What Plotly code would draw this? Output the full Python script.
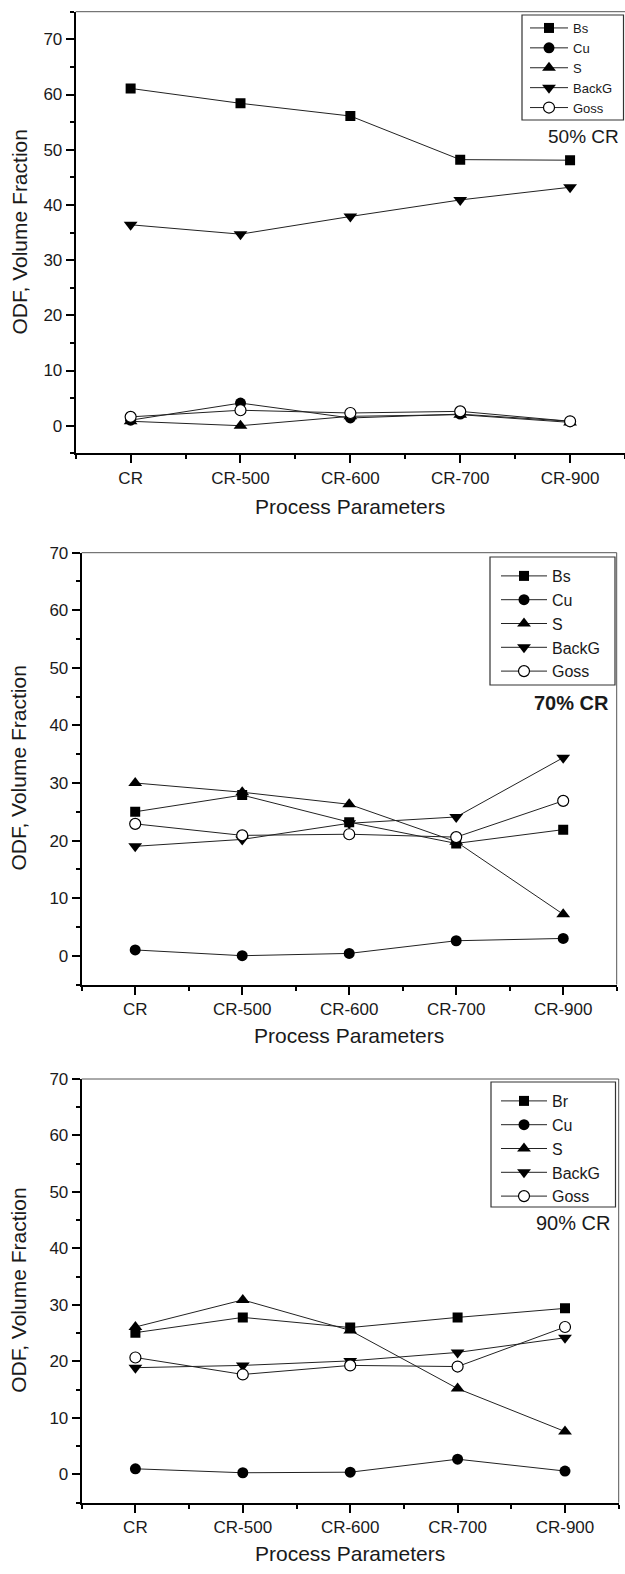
import plotly.graph_objects as go

categories = ["CR", "CR-500", "CR-600", "CR-700", "CR-900"]
x_pos = list(range(len(categories)))

# ---- 50% CR ----
p50_names = ["Bs", "Cu", "S", "BackG", "Goss"]
p50_bs = [61.1, 58.4, 56.1, 48.2, 48.1]
p50_cu = [1.0, 4.1, 1.4, 2.1, 0.8]
p50_s = [0.8, 0.0, 1.7, 2.0, 0.6]
p50_backg = [36.4, 34.7, 37.9, 40.9, 43.2]
p50_goss = [1.6, 2.8, 2.3, 2.6, 0.8]

# ---- 70% CR ----
p70_names = ["Bs", "Cu", "S", "BackG", "Goss"]
p70_bs = [25.0, 27.9, 23.2, 19.5, 21.9]
p70_cu = [1.0, 0.0, 0.4, 2.6, 3.0]
p70_s = [30.0, 28.4, 26.3, 19.8, 7.2]
p70_backg = [19.0, 20.2, 23.0, 24.1, 34.4]
p70_goss = [22.9, 20.9, 21.1, 20.6, 26.9]

# ---- 90% CR ----
p90_names = ["Br", "Cu", "S", "BackG", "Goss"]
p90_br = [25.1, 27.8, 26.0, 27.8, 29.4]
p90_cu = [1.0, 0.3, 0.4, 2.7, 0.6]
p90_s = [26.1, 30.9, 25.5, 15.2, 7.6]
p90_backg = [18.9, 19.3, 20.1, 21.6, 24.2]
p90_goss = [20.7, 17.7, 19.3, 19.1, 26.1]

panel_labels = ["50% CR", "70% CR", "90% CR"]
x_title = "Process Parameters"
y_title = "ODF, Volume Fraction"
y_ticks = [0, 10, 20, 30, 40, 50, 60, 70]

FONT = "Arial, 'Liberation Sans', Helvetica, sans-serif"
TXT = "#1a1a1a"
W, H = 625, 1574

marker_styles = [
    dict(symbol="square", size=10, color="black"),
    dict(symbol="circle", size=11, color="black"),
    dict(symbol="triangle-up", size=12, color="black"),
    dict(symbol="triangle-down", size=12, color="black"),
    dict(symbol="circle", size=11, color="white", line=dict(color="black", width=1.2)),
]

panels = [
    (p50_names, [p50_bs, p50_cu, p50_s, p50_backg, p50_goss]),
    (p70_names, [p70_bs, p70_cu, p70_s, p70_backg, p70_goss]),
    (p90_names, [p90_br, p90_cu, p90_s, p90_backg, p90_goss]),
]

# pixel geometry of each plot area: (left, right, top, bottom) and y range
geom = [
    (75.7, 625.0, 11.7, 453.3, [-5, 75]),
    (81.7, 616.7, 552.7, 984.5, [-5, 70]),
    (81.7, 618.7, 1079.0, 1502.7, [-5, 70]),
]

fig = go.Figure()
legend_keys = ["legend", "legend2", "legend3"]
axis_sfx = ["", "2", "3"]

for i, (names, series) in enumerate(panels):
    for j, (nm, vals) in enumerate(zip(names, series)):
        fig.add_trace(go.Scatter(
            x=x_pos, y=vals, name=nm, mode="lines+markers",
            line=dict(color="#222222", width=1),
            marker=marker_styles[j],
            xaxis="x" + axis_sfx[i], yaxis="y" + axis_sfx[i],
            legend=legend_keys[i],
        ))

layout = dict(
    template="none",
    width=W, height=H, margin=dict(l=0, r=0, t=0, b=0, pad=0, autoexpand=False),
    paper_bgcolor="white", plot_bgcolor="white",
    font=dict(family=FONT, color=TXT),
    showlegend=True,
)

shapes = []
annotations = []
legend_font = [13, 16, 16]
legend_itemw = [38, 46, 46]
legend_pos = [(525, 13), (496, 559), (496, 1084)]
legend_box = [(522, 623.5, 15, 120), (490, 615, 557, 685), (491, 615.5, 1082, 1207)]
label_pos = [(621, 137, False, 19), (611, 703, True, 20), (612, 1223, False, 20)]
xlab_y = [506, 1035, 1553]

for i, (l, r, t, b, yr) in enumerate(geom):
    sfx = axis_sfx[i]
    xd = [l / W, r / W]
    yd = [1 - b / H, 1 - t / H]
    layout["xaxis" + sfx] = dict(
        domain=xd, range=[-0.5, 4.5], anchor="y" + sfx, automargin=False,
        tickmode="array", tickvals=x_pos, ticktext=categories,
        showline=True, linecolor="black", linewidth=2,
        ticks="outside", ticklen=8, tickwidth=1.5, tickcolor="black",
        showgrid=False, zeroline=False,
        tickfont=dict(size=17, color=TXT, family=FONT),
        minor=dict(tickmode="linear", tick0=-0.5, dtick=1, ticks="outside",
                   ticklen=4, tickwidth=1.5, tickcolor="black", showgrid=False),
    )
    layout["yaxis" + sfx] = dict(
        domain=yd, range=yr, anchor="x" + sfx, automargin=False,
        tickmode="array", tickvals=y_ticks,
        showline=True, linecolor="black", linewidth=2,
        ticks="outside", ticklen=8, tickwidth=1.5, tickcolor="black",
        showgrid=False, zeroline=False,
        tickfont=dict(size=17, color=TXT, family=FONT),
        minor=dict(tickmode="linear", tick0=-5, dtick=5, ticks="outside",
                   ticklen=4, tickwidth=1.5, tickcolor="black", showgrid=False),
    )
    # thin top border (and right border for lower panels)
    shapes.append(dict(type="line", xref="x" + sfx + " domain", yref="y" + sfx + " domain",
                       x0=0, x1=1, y0=1, y1=1, line=dict(color="#555555", width=1)))
    if i > 0:
        shapes.append(dict(type="line", xref="x" + sfx + " domain", yref="y" + sfx + " domain",
                           x0=1, x1=1, y0=0, y1=1, line=dict(color="#555555", width=1)))
    # legend box
    bl, br, bt, bb = legend_box[i]
    shapes.append(dict(type="rect", xref="paper", yref="paper",
                       x0=bl / W, x1=br / W, y0=1 - bb / H, y1=1 - bt / H,
                       line=dict(color="#333333", width=1.2), fillcolor="rgba(0,0,0,0)"))
    # legend
    lx, ly = legend_pos[i]
    layout[legend_keys[i]] = dict(
        x=lx / W, y=1 - ly / H, xanchor="left", yanchor="top",
        borderwidth=0, bgcolor="rgba(0,0,0,0)",
        font=dict(size=legend_font[i], color=TXT, family=FONT),
        tracegroupgap=0, itemwidth=legend_itemw[i],
    )
    # panel label
    px_, py_, bold, fs = label_pos[i]
    txt = "<b>%s</b>" % panel_labels[i] if bold else panel_labels[i]
    annotations.append(dict(x=px_ / W, y=1 - py_ / H, xref="paper", yref="paper",
                            xanchor="right", yanchor="middle", showarrow=False,
                            text=txt, font=dict(size=fs, color=TXT, family=FONT)))
    # axis titles
    annotations.append(dict(x=(l + r) / 2 / W, y=1 - xlab_y[i] / H, xref="paper", yref="paper",
                            xanchor="center", yanchor="middle", showarrow=False,
                            text=x_title, font=dict(size=21, color=TXT, family=FONT)))
    annotations.append(dict(x=19 / W, y=1 - (t + b) / 2 / H, xref="paper", yref="paper",
                            xanchor="center", yanchor="middle", showarrow=False, textangle=-90,
                            text=y_title, font=dict(size=21, color=TXT, family=FONT)))

layout["shapes"] = shapes
layout["annotations"] = annotations
fig.update_layout(**layout)
fig.write_html(
    "out.html",
    config={"displayModeBar": False},
    post_script="document.body.style.margin='0';document.body.style.padding='0';"
                "document.documentElement.style.overflow='hidden';document.body.style.overflow='hidden';",
)
